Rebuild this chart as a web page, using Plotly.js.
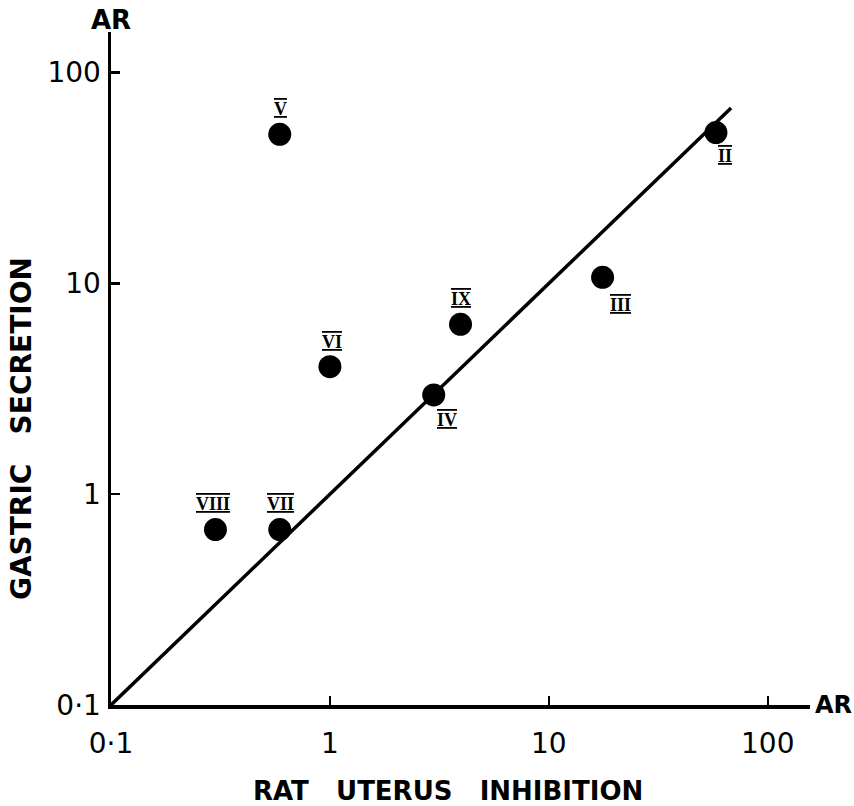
<!DOCTYPE html>
<html>
<head>
<meta charset="utf-8">
<script src="https://cdn.plot.ly/plotly-3.0.1.min.js"></script>
<style>
  html, body { margin: 0; padding: 0; background: #fff; }
  #chart { width: 854px; height: 806px; }
</style>
</head>
<body>
<div id="chart"></div>
<script>
// ---- data ----
const labels = ['V', 'II', 'III', 'IX', 'IV', 'VI', 'VIII', 'VII'];
const uterusInhibition = [0.59, 58, 17.6, 3.95, 2.98, 1.0, 0.30, 0.59];   // x (AR)
const gastricSecretion = [51, 52, 10.7, 6.4, 2.96, 4.03, 0.68, 0.68];    // y (AR)
const lineX = [0.1, 68];
const lineY = [0.1, 68];
const tickVals = [0.1, 1, 10, 100];
const tickText = ['0·1', '1', '10', '100'];

// ---- presentation ----
const labelOffsets = {            // pixel shifts of the roman numerals from their dots
  'V': [1, 25], 'II': [9, -23], 'III': [18, -28], 'IX': [0, 25],
  'IV': [13, -25], 'VI': [2, 25], 'VIII': [-2, 26], 'VII': [1, 26]
};
const tickFont = { family: '"DejaVu Sans", sans-serif', size: 28, color: '#000' };
const titleFont = { family: '"DejaVu Sans", sans-serif', size: 26, color: '#000', weight: 700 };

const traces = [
  {
    x: lineX, y: lineY, mode: 'lines', type: 'scatter',
    line: { color: '#000', width: 3.5 }, hoverinfo: 'skip', showlegend: false
  },
  {
    x: uterusInhibition, y: gastricSecretion, mode: 'markers', type: 'scatter',
    marker: { color: '#000', size: 23, line: { width: 0 } },
    text: labels, showlegend: false
  }
];

const annotations = labels.map((lab, i) => ({
  x: Math.log10(uterusInhibition[i]), y: Math.log10(gastricSecretion[i]),
  xref: 'x', yref: 'y', showarrow: false,
  xshift: labelOffsets[lab][0], yshift: labelOffsets[lab][1],
  text: '<span style="text-decoration-line:underline overline;text-decoration-thickness:2px">' + lab + '</span>',
  font: { family: '"Liberation Serif", "DejaVu Serif", serif', size: 18, color: '#000', weight: 700 }
}));

annotations.push(
  { xref: 'paper', yref: 'paper', x: 0, y: 1, yshift: 12, showarrow: false,
    text: 'AR', font: titleFont, xanchor: 'center', yanchor: 'middle' },
  { xref: 'paper', yref: 'paper', x: 1, y: 0, xshift: 3, showarrow: false,
    text: 'AR', font: Object.assign({}, titleFont, { size: 24 }), xanchor: 'left', yanchor: 'middle' },
  { xref: 'paper', yref: 'paper', x: 0.482, y: 0, yshift: -86, showarrow: false,
    text: 'RAT&nbsp;&nbsp;&nbsp;UTERUS&nbsp;&nbsp;&nbsp;INHIBITION', font: titleFont,
    xanchor: 'center', yanchor: 'middle' },
  { xref: 'paper', yref: 'paper', x: 0, xshift: -90, y: 0.41, showarrow: false,
    text: 'GASTRIC&nbsp;&nbsp;&nbsp;SECRETION',
    font: Object.assign({}, titleFont, { size: 28 }), textangle: -90,
    xanchor: 'center', yanchor: 'middle' }
);

const axisCommon = {
  type: 'log', range: [-1, 2.193],
  showline: true, linecolor: '#000', linewidth: 3.5,
  showgrid: false, zeroline: false,
  ticks: 'inside', ticklen: 9, tickwidth: 2.5, tickcolor: '#000',
  tickmode: 'array', tickvals: tickVals, ticktext: tickText,
  tickfont: tickFont, fixedrange: true
};

const layout = {
  width: 854, height: 806,
  margin: { l: 111, r: 44, t: 32, b: 101 },
  paper_bgcolor: '#fff', plot_bgcolor: '#fff',
  xaxis: Object.assign({}, axisCommon, { ticklabelstandoff: 11 }),
  yaxis: Object.assign({}, axisCommon, { ticklabelstandoff: 1 }),
  annotations: annotations,
  showlegend: false
};

Plotly.newPlot('chart', traces, layout, { displayModeBar: false, staticPlot: true });
</script>
</body>
</html>
